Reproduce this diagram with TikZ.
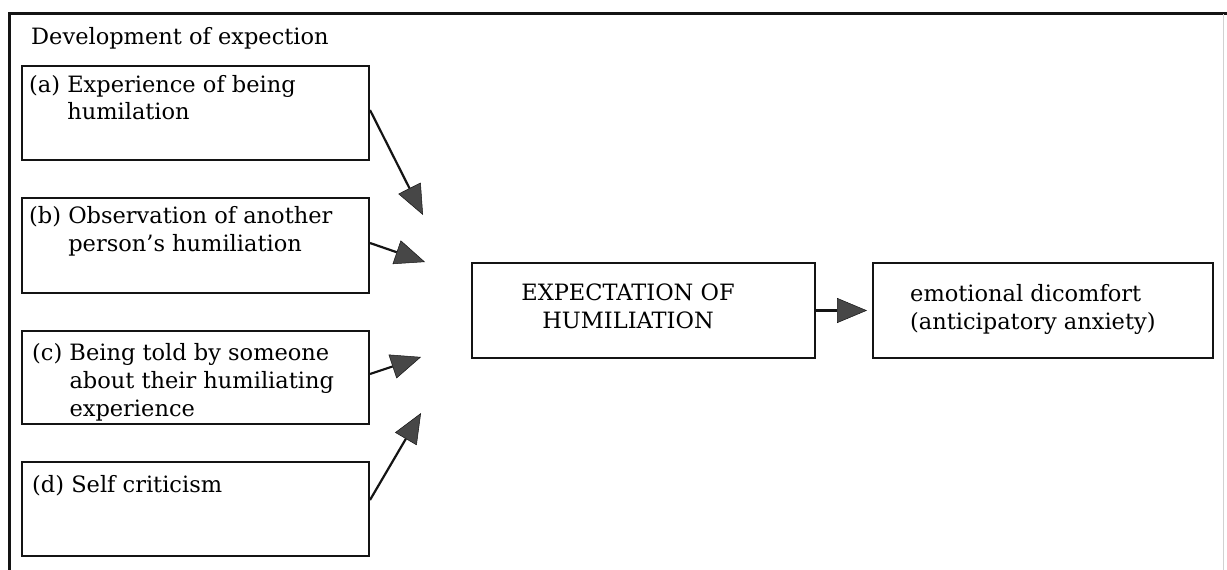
\documentclass[tikz,border=0pt]{standalone}
\usepackage{fontspec}
\setmainfont{DejaVu Serif}
\usetikzlibrary{arrows.meta}
\begin{document}
\begin{tikzpicture}[x=1pt,y=-1pt,
  box/.style={draw=black!92, line width=2pt, inner sep=0pt, rectangle},
  txt/.style={anchor=base west, inner sep=0pt, font=\fontsize{22.5}{28}\selectfont, text=black},
  conn/.style={draw=black!92, line width=2.2pt,
    -{Triangle[length=30pt,width=25pt,line width=0.5pt,fill=black!72]}},
  frame/.style={draw=black!92, line width=2.2pt}]
\useasboundingbox (0,0) rectangle (1227,570);
\fill[white] (0,0) rectangle (1227,570);

% outer frame, running off the right and bottom edges
\begin{scope}
  \clip (0,0) rectangle (1227,570);
  \draw[frame] (1240,13.5) -| (9.5,600);
  \draw[black!18, line width=1pt] (1223,14) -- (1223,570);
\end{scope}

\node[txt] (title) at (31,45) {Development of expection};

% source boxes
\node[box, minimum width=347pt, minimum height=94pt] (a) at (195.5,113) {};
\node[box, minimum width=347pt, minimum height=95pt] (b) at (195.5,245.5) {};
\node[box, minimum width=347pt, minimum height=93pt] (c) at (195.5,377.5) {};
\node[box, minimum width=347pt, minimum height=94pt] (d) at (195.5,509) {};

\node[txt] (ta) at (29,92) {\begin{tabular}[t]{@{}l@{\ }l@{}}(a) & Experience of being\\ & humilation\end{tabular}};
\node[txt] (tb) at (29,223) {\begin{tabular}[t]{@{}l@{\ }l@{}}(b) & Observation of another\\ & person's humiliation\end{tabular}};
\node[txt] (tc) at (32,360) {\begin{tabular}[t]{@{}l@{\ }l@{}}(c) & Being told by someone\\ & about their humiliating\\ & experience\end{tabular}};
\node[txt] (td) at (32,492) {(d) Self criticism};

% central and outcome boxes
\node[box, minimum width=343pt, minimum height=95pt] (exp) at (643.5,310.5) {};
\node[box, minimum width=340pt, minimum height=95pt] (emo) at (1043,310.5) {};

\node[txt, anchor=base, align=center] (texp) at (628,328) {EXPECTATION OF\\HUMILIATION};
\node[txt, align=left] (temo) at (910,329) {emotional dicomfort\\(anticipatory anxiety)};

% free arrow ends in front of the central box
\coordinate (ea) at (423,215);
\coordinate (eb) at (425,262);
\coordinate (ec) at (421,357);
\coordinate (ed) at (421,413);

\draw[conn] (a.east |- 0,110) -- (ea);
\draw[conn] (b.east |- 0,243) -- (eb);
\draw[conn] (c.east |- 0,374) -- (ec);
\draw[conn] (d.east |- 0,500) -- (ed);
\draw[conn, shorten >=5pt] (exp.east) -- (emo.west);
\end{tikzpicture}
\end{document}
